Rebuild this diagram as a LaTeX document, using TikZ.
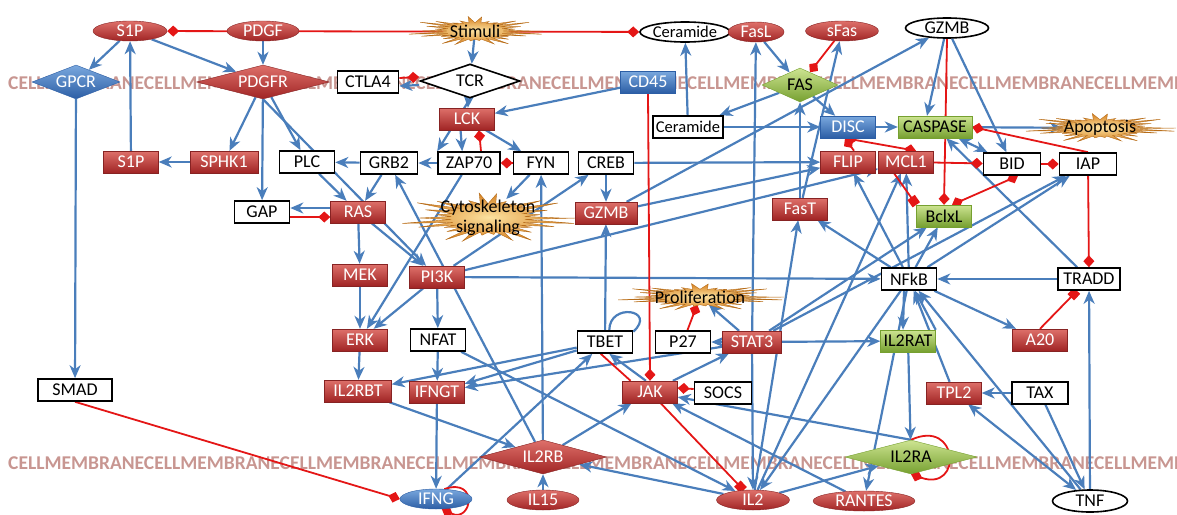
\documentclass[tikz,border=0pt]{standalone}
\usepackage{fontspec}
\setmainfont{Carlito}
\usetikzlibrary{arrows.meta,calc,shapes.geometric}
\definecolor{actblue}{RGB}{74,126,187}
\definecolor{inhred}{RGB}{228,22,22}
\definecolor{redtop}{RGB}{222,112,106}
\definecolor{redbot}{RGB}{160,36,36}
\definecolor{redline}{RGB}{135,35,35}
\definecolor{bluetop}{RGB}{122,168,222}
\definecolor{bluebot}{RGB}{44,94,165}
\definecolor{greentop}{RGB}{205,228,145}
\definecolor{greenbot}{RGB}{118,160,48}
\definecolor{memcol}{RGB}{200,150,145}
\definecolor{burstin}{RGB}{252,226,160}
\definecolor{burstout}{RGB}{214,128,32}
\pgfdeclarelayer{membrane}
\pgfdeclarelayer{edges}
\pgfsetlayers{membrane,edges,main}
\tikzset{
  every node/.style={font=\fontsize{18}{20}\selectfont},
  box/.style={
    shape = rectangle,
    minimum width = 55pt,
    minimum height = 22pt,
    inner xsep = 3pt,
    inner ysep = 2pt
  },
  redbox/.style={box, top color=redtop, bottom color=redbot, draw=redline, text=white},
  bluebox/.style={box, top color=bluetop, bottom color=bluebot, draw=bluebot, text=white},
  greenbox/.style={box, top color=greentop, bottom color=greenbot, draw=greenbot, text=black},
  whitebox/.style={box, fill=white, draw=black, line width=1.6pt, text=black},
  ell/.style={
    shape = ellipse,
    minimum height = 20pt,
    inner xsep = -3pt,
    inner ysep = -3pt
  },
  redell/.style={ell, top color=redtop, bottom color=redbot, draw=redline, text=white},
  blueell/.style={ell, top color=bluetop, bottom color=bluebot, draw=bluebot, text=white},
  whiteell/.style={ell, fill=white, draw=black, line width=1.6pt, text=black},
  dia/.style={
    shape = diamond,
    shape aspect = 3.5,
    inner sep = 0pt,
    minimum height = 34pt
  },
  reddia/.style={dia, top color=redtop, bottom color=redbot, draw=redline, text=white},
  bluedia/.style={dia, top color=bluetop, bottom color=bluebot, draw=bluebot, text=white},
  greendia/.style={dia, top color=greentop, bottom color=greenbot, draw=greenbot, text=black},
  whitedia/.style={dia, fill=white, draw=black, line width=1.6pt, text=black},
  burstlbl/.style={inner sep=1pt, align=center, text=black},
  burstshade/.style={inner color=burstin, outer color=burstout, draw=burstout!85!black, line width=0.4pt},
  memtext/.style={anchor=west, inner sep=0pt, text=memcol,
    font=\fontsize{19.5}{20}\selectfont\bfseries},
  small/.style={font=\fontsize{16.5}{18}\selectfont}
}
\tikzset{
  act/.style={draw=actblue, line width=2.2pt, -{Stealth[length=13pt,width=11pt,inset=4pt]}},
  actboth/.style={act, {Stealth[length=13pt,width=11pt,inset=4pt]}-{Stealth[length=13pt,width=11pt,inset=4pt]}},
  actline/.style={draw=actblue, line width=2.2pt},
  inh/.style={draw=inhred, line width=1.8pt, -{Diamond[length=12pt,width=11pt]}},
  inhboth/.style={inh, {Diamond[length=12pt,width=11pt]}-{Diamond[length=12pt,width=11pt]}},
  inhsq/.style={draw=inhred, line width=1.8pt, -{Square[length=9pt,width=9pt]}},
  inhline/.style={draw=inhred, line width=1.8pt}
}
% spiky burst behind a label: centre, x radius, y radius
\newcommand{\spikyburst}[3]{%
  \shadedraw[burstshade] ($(#1)+(#2,0)$)
    \foreach \a in {0,12,...,348}{
      -- ($(#1)+({\a+6}:{0.42*#2} and {0.55*#3})$)
      -- ($(#1)+({\a+12}:{(0.8+0.2*cos(7*\a))*#2} and {(0.8+0.2*cos(7*\a))*#3})$)
    } -- cycle;}

\begin{document}
\begin{tikzpicture}[x=1pt,y=-1pt]
\useasboundingbox (0,0) rectangle (1177,514);
% membrane rows
\begin{pgfonlayer}{membrane}
\begin{scope}
\clip (0,0) rectangle (1177,514);
\node[memtext] (memtop) at (8,83) {CELLMEMBRANECELLMEMBRANECELLMEMBRANECELLMEMBRANECELLMEMBRANECELLMEMBRANECELLMEMBRANECELLMEMBRANECELLMEMBRANECELLMEMBRANE};
\node[memtext] (membot) at (8,463) {CELLMEMBRANECELLMEMBRANECELLMEMBRANECELLMEMBRANECELLMEMBRANECELLMEMBRANECELLMEMBRANECELLMEMBRANECELLMEMBRANECELLMEMBRANE};
\end{scope}
\end{pgfonlayer}

% bursts
\coordinate (stimc) at (475,31);
\coordinate (apopc) at (1100,128);
\coordinate (cytoc) at (488,218);
\coordinate (prolifc) at (700,297);
\spikyburst{stimc}{68}{15}
\spikyburst{apopc}{76}{15}
\spikyburst{cytoc}{88}{26}
\spikyburst{prolifc}{84}{14}
\node[burstlbl] (stim) at (stimc) {Stimuli};
\node[burstlbl] (apop) at (apopc) {Apoptosis};
\node[burstlbl] (cyto) at (cytoc) {Cytoskeleton\\signaling};
\node[burstlbl] (prolif) at (prolifc) {Proliferation};

% top row
\node[redell, minimum width=74pt] (s1pt) at (130,31) {S1P};
\node[redell, minimum width=72pt] (pdgf) at (263,31) {PDGF};
\node[whiteell, small, minimum width=90pt] (cert) at (685,32) {Ceramide};
\node[redell, minimum width=56pt] (fasl) at (756,32) {FasL};
\node[redell, minimum width=73pt] (sfas) at (842,31) {sFas};
\node[whiteell, minimum width=83pt] (gzmbt) at (947,28) {GZMB};
% membrane receptors
\node[bluedia, minimum width=88pt] (gpcr) at (76,82) {GPCR};
\node[reddia, minimum width=133pt] (pdgfr) at (263,82) {PDGFR};
\node[whitebox, minimum width=61pt] (ctla4) at (368,82) {CTLA4};
\node[whitedia, minimum width=100pt] (tcr) at (470,81) {TCR};
\node[bluebox] (cd45) at (648,82) {CD45};
\node[greendia, minimum width=76pt] (fas) at (800,85) {FAS};
% second rows
\node[redbox] (lck) at (467,119) {LCK};
\node[whitebox, small, minimum width=70pt] (cerb) at (688,127) {Ceramide};
\node[bluebox] (disc) at (848,127) {DISC};
\node[greenbox, minimum width=74pt] (casp) at (935,127) {CASPASE};
\node[redbox] (s1pb) at (131,162) {S1P};
\node[redbox, minimum width=68pt] (sphk) at (224,162) {SPHK1};
\node[whitebox] (plc) at (307,162) {PLC};
\node[whitebox, minimum width=57pt] (grb2) at (389,163) {GRB2};
\node[whitebox, minimum width=62pt] (zap70) at (469,163) {ZAP70};
\node[whitebox] (fyn) at (541,163) {FYN};
\node[whitebox] (creb) at (606,163) {CREB};
\node[redbox] (flip) at (848,162) {FLIP};
\node[redbox] (mcl1) at (906,162) {MCL1};
\node[whitebox, minimum width=57pt] (bid) at (1012,164) {BID};
\node[whitebox, minimum width=57pt] (iap) at (1088,164) {IAP};
\node[whitebox] (gap) at (262,212) {GAP};
\node[redbox] (ras) at (358,212) {RAS};
\node[redbox, minimum width=62pt] (gzmb) at (606,213) {GZMB};
\node[redbox] (fast) at (800,209) {FasT};
\node[greenbox] (bclxl) at (944,216) {BclxL};
\node[redbox] (mek) at (360,275) {MEK};
\node[redbox] (pi3k) at (437,277) {PI3K};
\node[whitebox] (nfkb) at (909,279) {NFkB};
\node[whitebox, minimum width=62pt] (tradd) at (1089,279) {TRADD};
\node[redbox] (erk) at (360,340) {ERK};
\node[whitebox] (nfat) at (438,340) {NFAT};
\node[whitebox] (tbet) at (605,342) {TBET};
\node[whitebox] (p27) at (683,342) {P27};
\node[redbox, minimum width=59pt] (stat3) at (752,342) {STAT3};
\node[greenbox] (il2rat) at (908,341) {IL2RAT};
\node[redbox] (a20) at (1040,340) {A20};
\node[whitebox, minimum width=74pt] (smad) at (75,390) {SMAD};
\node[redbox, minimum width=67pt] (il2rbt) at (358,391) {IL2RBT};
\node[redbox] (ifngt) at (437,392) {IFNGT};
\node[redbox] (jak) at (650,392) {JAK};
\node[whitebox, minimum width=57pt] (socs) at (723,393) {SOCS};
\node[redbox] (tpl2) at (954,393) {TPL2};
\node[whitebox, minimum width=56pt] (tax) at (1040,393) {TAX};
% lower membrane and ligands
\node[reddia, minimum width=127pt] (il2rb) at (543,457) {IL2RB};
\node[greendia, minimum width=132pt] (il2ra) at (911,457) {IL2RA};
\node[blueell, minimum width=72pt] (ifng) at (436,499) {IFNG};
\node[redell, minimum width=72pt] (il15) at (543,500) {IL15};
\node[redell, minimum width=73pt] (il2) at (753,500) {IL2};
\node[redell, minimum width=102pt] (rantes) at (864,501) {RANTES};
\node[whiteell, minimum width=75pt, minimum height=22pt] (tnf) at (1090,501) {TNF};

\begin{pgfonlayer}{edges}
% left block
\draw[inhboth] (s1pt) -- (cert);
\draw[act] (s1pt) -- (gpcr);
\draw[act] (s1pt) -- (pdgfr);
\draw[act] (pdgf) -- (pdgfr);
\draw[act] (s1pb) -- (s1pt);
\draw[act] (sphk) -- (s1pb);
\draw[act] (pdgfr) -- (sphk);
\draw[act] (pdgfr) -- (gap);
\draw[act] (pdgfr) -- (plc);
\draw[act] (pdgfr.south) -- (pi3k);
\draw[act] (gpcr) -- (smad);
\draw[inh] (smad.south) -- (ifng.west);
% TCR block
\draw[act] (stim) -- (tcr);
\draw[act] ([yshift=-4pt]tcr.west) -- ([yshift=-4pt]ctla4.east);
\draw[inh] ([yshift=4pt]ctla4.east) -- ([yshift=4pt]tcr.west);
\draw[act] (tcr) -- (lck);
\draw[act] (tcr.south) -- (zap70.north west);
\draw[act] (cd45) -- (lck);
\draw[act] (lck.240) -- (zap70.120);
\draw[act] (lck) -- (fyn);
\draw[inh] ([xshift=12pt]zap70.north) -- ([xshift=12pt]lck.south);
\draw[inh] (fyn) -- (zap70);
\draw[act] (zap70) -- (grb2);
\draw[act] (grb2) -- (plc);
\draw[act] (grb2) -- (ras);
\draw[act] (plc) -- (ras);
\draw[act] ([yshift=4pt]ras.west) -- ([yshift=4pt]gap.east);
\draw[inh] ([yshift=-5pt]gap.east) -- ([yshift=-5pt]ras.west);
\draw[act] (ras) -- (mek);
\draw[act] (ras) -- (pi3k);
\draw[act] (mek) -- (erk);
\draw[act] (pi3k) -- (erk);
\draw[act] (zap70) -- (erk);
\draw[act] (pi3k) -- (nfat);
\draw[act] (il2rb) -- (grb2);
\draw[act] (il2rb) -- (fyn);
\draw[act] (fyn) -- (cyto);
\draw[act] (pi3k) -- (creb);
\draw[act] (creb) -- (gzmb);
\draw[act] (creb) -- (flip);
\draw[act] (pi3k) -- (mcl1);
\draw[act] (pi3k) -- (nfkb);
\draw[act] (gzmb) -- (gzmbt);
\draw[act] (gzmb) -- (flip);
\draw[act] (tbet) -- (gzmb);
% T cell block
\draw[act] (erk) -- (il2rbt);
\draw[act] (nfat) -- (ifngt);
\draw[act] (ifngt) -- (ifng);
\draw[act] (il2rbt) -- (il2rb);
\draw[act] (tbet) -- (il2rbt);
\draw[act] (tbet) -- (ifngt);
\draw[act] (stat3) -- (ifngt);
\draw[act] (ifng) -- (tbet);
\draw[act] (jak.110) -- (tbet.290);
\draw[inhline] (jak.150) -- (tbet.250);
\draw[actline] (tbet.70) .. controls +(0,-28) and +(24,-22) .. (tbet.20);
\draw[act] (jak) -- (stat3);
\draw[act] (il2rb) -- (jak);
\draw[act] (il15) -- (il2rb);
\draw[act] (il2) -- (il2rb);
\draw[act] (nfat) -- (il2);
\draw[inh] (cd45.south) -- (jak.north);
\draw[inh] ([yshift=4pt]socs.west) -- ([yshift=4pt]jak.east);
\draw[inhsq] (jak) -- (il2);
\draw[inh] (ifng.50) .. controls +(35,-12) and +(30,14) .. (ifng.-60);
\draw[act] (stat3) -- (p27);
\draw[act] (stat3) -- (prolif);
\draw[inh] (p27) -- (prolif);
\draw[act] (stat3) -- (il2rat);
\draw[act] (stat3) -- (fasl);
\draw[act] (stat3) -- (il2);
\draw[act] (stat3) -- (bclxl);
\draw[act] (stat3) -- (iap);
% NFkB block
\draw[act] (il2rat) -- (il2ra);
\draw[act] ([xshift=-5pt]nfkb.south) -- ([xshift=-5pt]il2rat.north);
\draw[act] (il2rat.north east) -- ([xshift=6pt]nfkb.south);
\draw[act] (nfkb) -- (a20);
\draw[act] (tradd) -- (nfkb);
\draw[act] (tnf) -- (tradd);
\draw[act] (tnf) -- (nfkb);
\draw[act] (tax) -- (tnf);
\draw[act] (tax) -- (tpl2);
\draw[actboth] (tpl2) -- (tnf);
\draw[act] (tpl2) -- (nfkb);
\draw[act] (nfkb) -- (fast);
\draw[act] (nfkb) -- (flip);
\draw[act] (nfkb) -- (mcl1);
\draw[act] (nfkb) -- (bclxl);
\draw[act] (nfkb) -- (iap);
\draw[act] (nfkb) -- (rantes);
\draw[act] (nfkb) -- (il2);
\draw[act] (il2) -- (fast);
\draw[act] (il2) -- (mcl1);
\draw[act] (il2) -- (il2ra);
\draw[act] (il2ra.north) -- (jak);
\draw[act] (rantes) -- (jak);
\draw[inh] (il2ra.north) .. controls +(48,-22) and +(52,18) .. (il2ra.south);
\draw[inhsq] (a20.north) -- ([xshift=-12pt]tradd.south);
\draw[inh] (iap) -- (tradd);
% FAS / apoptosis block
\draw[act] (fasl) -- (fas);
\draw[inh] (sfas) -- (fas);
\draw[act] (fast) -- (fas);
\draw[act] (fast) -- (sfas);
\draw[act] (fas) -- (cerb);
\draw[act] (cerb) -- (cert);
\draw[act] (cerb) -- (disc);
\draw[act] (fas) -- (disc);
\draw[act] (disc) -- (casp);
\draw[act] (casp) -- (apop);
\draw[act] (gzmbt.255) -- ([xshift=-8pt]casp.north);
\draw[inh] (gzmbt.south) -- (bclxl.north);
\draw[act] (gzmbt) -- (bid);
\draw[actboth] (casp) -- (bid);
\draw[act] (tradd) -- (casp);
\draw[inh] (iap.north) -- (casp.east);
\draw[inh] ([xshift=6pt]flip.north) -- ([xshift=-3pt]disc.south);
\draw[inhboth] ([xshift=-3pt]disc.south) -- ([xshift=10pt]mcl1.north);
\draw[inh] (mcl1) -- (bid);
\draw[inh] (bid) -- (iap);
\draw[inhboth] ([xshift=6pt]bid.south) -- ([xshift=8pt]bclxl.north);
\draw[inhsq] ([xshift=-12pt]mcl1.south) -- (bclxl.north west);
\end{pgfonlayer}
\end{tikzpicture}
\end{document}
